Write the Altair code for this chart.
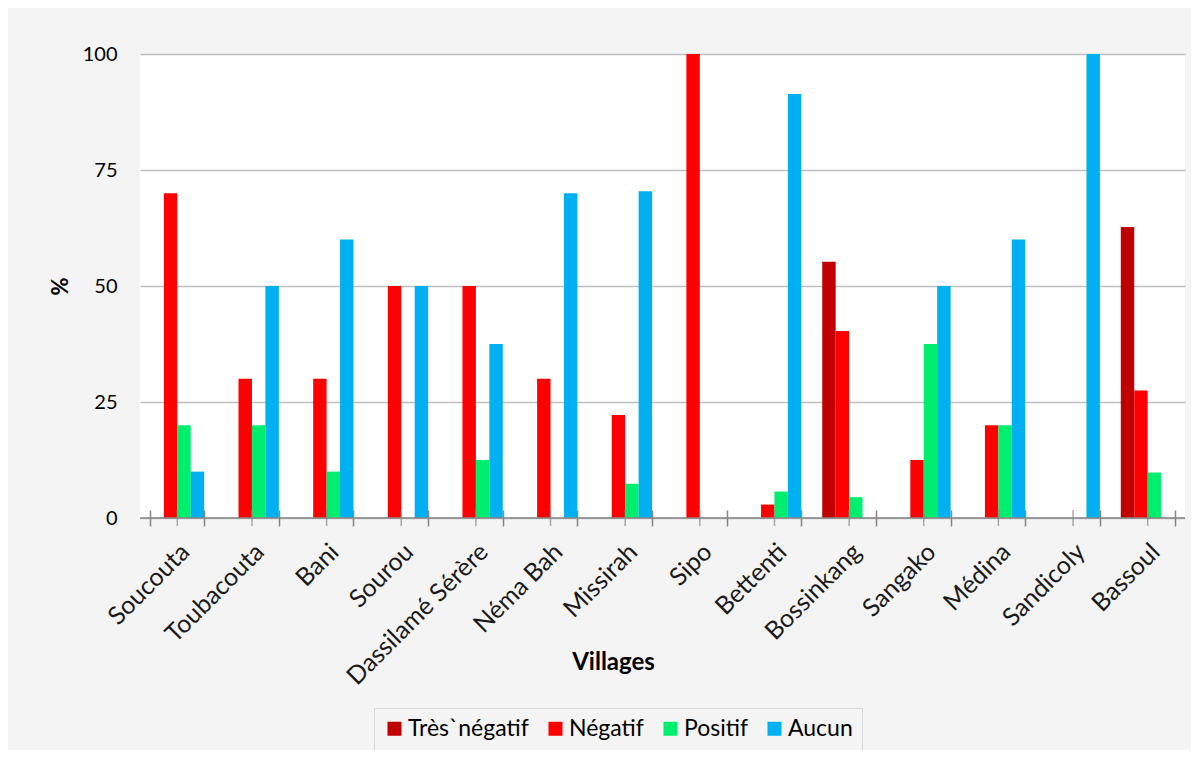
import altair as alt
import pandas as pd

villages = ["Soucouta", "Toubacouta", "Bani", "Sourou", "Dassilamé Sérère", "Néma Bah",
            "Missirah", "Sipo", "Bettenti", "Bossinkang", "Sangako", "Médina", "Sandicoly", "Bassoul"]
series = ["Très`négatif", "Négatif", "Positif", "Aucun"]
tres_negatif = [0, 0, 0, 0, 0, 0, 0, 0, 0, 55.2, 0, 0, 0, 62.7]
negatif = [70, 30, 30, 50, 50, 30, 22.2, 100, 2.9, 40.3, 12.5, 20, 0, 27.5]
positif = [20, 20, 10, 0, 12.5, 0, 7.4, 0, 5.7, 4.5, 37.5, 20, 0, 9.8]
aucun = [10, 50, 60, 50, 37.5, 70, 70.4, 0, 91.4, 0, 50, 60, 100, 0]
colors = ["#c00000", "#ff0000", "#00ee6e", "#00b0f0"]
y_ticks = [0, 25, 50, 75, 100]

rows = []
for name, vals in zip(series, [tres_negatif, negatif, positif, aucun]):
    for v, val in zip(villages, vals):
        rows.append({"Village": v, "Série": name, "Valeur": val})
df = pd.DataFrame(rows)

FONT = "Lato"
AXIS_COL = "#868686"

x_enc = alt.X(
    "Village:N", sort=villages,
    scale=alt.Scale(domain=villages, paddingInner=0.28, paddingOuter=0.14),
    axis=alt.Axis(
        title="Villages", labelAngle=-45, labelAlign="right", labelBaseline="top",
        labelFontSize=25, labelColor="#1a1a1a", labelPadding=13, labelOffset=-1,
        labelLimit=500, labelOverlap=False,
        tickBand="extent", tickSize=16, tickColor=AXIS_COL, tickWidth=1.5,
        offset=-8, domain=False, grid=False,
        titleFontSize=24, titleFontWeight="bold", titleColor="#000000",
        titleX=473, titleY=152, titleBaseline="middle", titleAlign="center",
    ),
)

bars = alt.Chart(df).mark_bar().encode(
    x=x_enc,
    xOffset=alt.XOffset("Série:N", sort=series,
                        scale=alt.Scale(domain=series, paddingInner=0, paddingOuter=0)),
    y=alt.Y("Valeur:Q", scale=alt.Scale(domain=[0, 100], nice=False),
            axis=alt.Axis(values=y_ticks, title="%", titleFontSize=22, titleFontWeight="bold",
                          titleColor="#000000", titleX=-80, titleY=232, titleAngle=270,
                          titleAlign="center", titleBaseline="middle",
                          labelFontSize=20, labelColor="#000000", labelPadding=23,
                          ticks=False, tickSize=0, domain=False,
                          grid=True, gridColor="#bfbfbf", gridWidth=1.5)),
    color=alt.Color("Série:N", sort=series,
                    scale=alt.Scale(domain=series, range=colors),
                    legend=alt.Legend(orient="none", legendX=234, legendY=654,
                                      direction="horizontal", title=None,
                                      symbolType="square", symbolSize=196,
                                      symbolStrokeWidth=0, labelFontSize=23,
                                      labelColor="#000000", labelOffset=2,
                                      columnPadding=15, padding=9,
                                      strokeColor="#d9d9d9", fillColor="#f4f4f4")),
)

zero_line = alt.Chart(pd.DataFrame({"v": [0]})).mark_rule(
    color=AXIS_COL, strokeWidth=1.5).encode(y="v:Q")

center_ticks = alt.Chart(pd.DataFrame({"Village": villages, "v": [0] * len(villages)})).mark_tick(
    orient="vertical", size=16, thickness=1.5, color=AXIS_COL
).encode(x=alt.X("Village:N", sort=villages), y="v:Q")

chart = alt.layer(bars, zero_line, center_ticks).properties(
    width=1045, height=464,
    autosize=alt.AutoSizeParams(type="none"),
    padding={"left": 132, "top": 46, "right": 6, "bottom": 232},
    background="#f4f4f4",
).configure(font=FONT).configure_view(stroke=None, fill="#ffffff")

chart.save("out.html", embed_options={"renderer": "svg", "actions": False})
